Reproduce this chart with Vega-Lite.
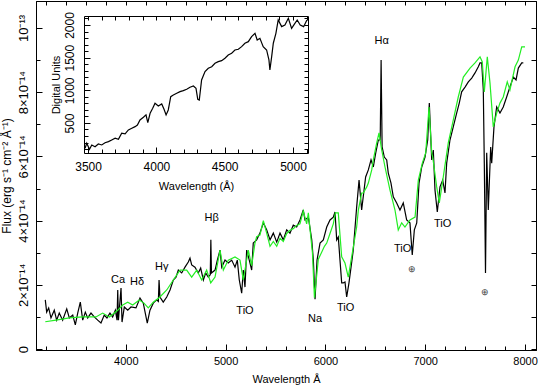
{
  "$schema": "https://vega.github.io/schema/vega-lite/v6.json",
  "width": 500,
  "height": 349,
  "autosize": {"type": "none"},
  "padding": {"left": 36, "top": 1, "right": 2, "bottom": 38},
  "config": {
    "view": {"stroke": "black", "strokeWidth": 1},
    "axis": {"labelFont": "Liberation Sans", "titleFont": "Liberation Sans", "labelFontSize": 11, "titleFontSize": 11, "titleFontWeight": "normal", "labelColor": "black", "titleColor": "black", "domainColor": "black", "tickColor": "black", "grid": false, "labelFlush": false, "labelOverlap": false},
    "text": {"font": "Liberation Sans"}
  },
  "datasets": {
    "black": [
      {"wl":3193,"flux":1.53},{"wl":3207,"flux":1.15},{"wl":3227,"flux":1.28},{"wl":3250,"flux":0.97},{"wl":3283,"flux":1.21},{"wl":3307,"flux":0.90},{"wl":3333,"flux":1.12},{"wl":3367,"flux":0.90},{"wl":3408,"flux":1.25},{"wl":3434,"flux":0.97},{"wl":3468,"flux":1.06},{"wl":3494,"flux":0.75},{"wl":3518,"flux":1.12},{"wl":3544,"flux":1.46},{"wl":3568,"flux":0.90},{"wl":3594,"flux":1.15},{"wl":3618,"flux":0.97},{"wl":3651,"flux":1.12},{"wl":3684,"flux":1.00},{"wl":3718,"flux":0.90},{"wl":3751,"flux":0.81},{"wl":3784,"flux":1.06},{"wl":3811,"flux":0.97},{"wl":3841,"flux":1.12},{"wl":3868,"flux":1.00},{"wl":3895,"flux":1.21},{"wl":3912,"flux":0.90},{"wl":3919,"flux":1.84},{"wl":3926,"flux":0.90},{"wl":3952,"flux":1.90},{"wl":3962,"flux":0.84},{"wl":3985,"flux":1.31},{"wl":4019,"flux":1.21},{"wl":4052,"flux":1.31},{"wl":4102,"flux":1.28},{"wl":4142,"flux":1.59},{"wl":4175,"flux":1.43},{"wl":4215,"flux":0.81},{"wl":4242,"flux":1.21},{"wl":4275,"flux":1.43},{"wl":4309,"flux":1.53},{"wl":4326,"flux":1.48},{"wl":4333,"flux":2.15},{"wl":4342,"flux":1.62},{"wl":4375,"flux":1.46},{"wl":4410,"flux":1.62},{"wl":4443,"flux":1.84},{"wl":4476,"flux":2.15},{"wl":4503,"flux":2.24},{"wl":4526,"flux":2.46},{"wl":4560,"flux":2.37},{"wl":4593,"flux":2.55},{"wl":4626,"flux":2.71},{"wl":4643,"flux":2.83},{"wl":4660,"flux":2.62},{"wl":4693,"flux":2.55},{"wl":4726,"flux":2.37},{"wl":4750,"flux":2.52},{"wl":4777,"flux":2.15},{"wl":4800,"flux":2.37},{"wl":4826,"flux":2.24},{"wl":4846,"flux":2.31},{"wl":4852,"flux":3.40},{"wl":4858,"flux":2.37},{"wl":4894,"flux":2.46},{"wl":4917,"flux":2.77},{"wl":4944,"flux":3.08},{"wl":4961,"flux":2.55},{"wl":4994,"flux":2.77},{"wl":5027,"flux":2.68},{"wl":5061,"flux":2.77},{"wl":5094,"flux":2.55},{"wl":5117,"flux":2.77},{"wl":5137,"flux":2.15},{"wl":5161,"flux":1.74},{"wl":5177,"flux":2.46},{"wl":5194,"flux":1.93},{"wl":5211,"flux":3.08},{"wl":5237,"flux":2.77},{"wl":5261,"flux":2.46},{"wl":5277,"flux":3.30},{"wl":5311,"flux":3.40},{"wl":5344,"flux":3.61},{"wl":5378,"flux":3.93},{"wl":5412,"flux":3.71},{"wl":5445,"flux":3.40},{"wl":5478,"flux":3.61},{"wl":5512,"flux":3.33},{"wl":5545,"flux":3.61},{"wl":5578,"flux":3.40},{"wl":5612,"flux":3.71},{"wl":5645,"flux":3.61},{"wl":5678,"flux":3.86},{"wl":5712,"flux":3.80},{"wl":5745,"flux":4.02},{"wl":5778,"flux":4.33},{"wl":5795,"flux":4.02},{"wl":5829,"flux":4.11},{"wl":5863,"flux":3.40},{"wl":5879,"flux":2.77},{"wl":5896,"flux":1.55},{"wl":5916,"flux":2.77},{"wl":5946,"flux":3.30},{"wl":5979,"flux":3.40},{"wl":6013,"flux":3.80},{"wl":6046,"flux":4.02},{"wl":6079,"flux":4.11},{"wl":6096,"flux":4.27},{"wl":6113,"flux":3.40},{"wl":6129,"flux":3.49},{"wl":6146,"flux":2.77},{"wl":6163,"flux":2.06},{"wl":6179,"flux":2.06},{"wl":6196,"flux":2.09},{"wl":6213,"flux":1.62},{"wl":6236,"flux":2.06},{"wl":6279,"flux":3.08},{"wl":6313,"flux":4.42},{"wl":6337,"flux":5.26},{"wl":6363,"flux":4.33},{"wl":6403,"flux":5.36},{"wl":6430,"flux":5.58},{"wl":6457,"flux":5.89},{"wl":6480,"flux":5.67},{"wl":6504,"flux":6.11},{"wl":6530,"flux":6.51},{"wl":6549,"flux":6.51},{"wl":6558,"flux":9.00},{"wl":6568,"flux":6.30},{"wl":6590,"flux":5.98},{"wl":6614,"flux":5.89},{"wl":6630,"flux":5.48},{"wl":6657,"flux":5.17},{"wl":6680,"flux":4.74},{"wl":6714,"flux":4.55},{"wl":6747,"flux":4.33},{"wl":6780,"flux":4.55},{"wl":6814,"flux":4.02},{"wl":6847,"flux":3.93},{"wl":6870,"flux":2.93},{"wl":6891,"flux":3.71},{"wl":6915,"flux":3.93},{"wl":6938,"flux":5.17},{"wl":6965,"flux":5.67},{"wl":6998,"flux":5.98},{"wl":7025,"flux":6.51},{"wl":7041,"flux":7.66},{"wl":7065,"flux":5.89},{"wl":7081,"flux":6.20},{"wl":7098,"flux":4.95},{"wl":7121,"flux":4.27},{"wl":7148,"flux":5.05},{"wl":7175,"flux":5.26},{"wl":7198,"flux":4.86},{"wl":7215,"flux":5.79},{"wl":7248,"flux":6.51},{"wl":7281,"flux":6.92},{"wl":7315,"flux":7.35},{"wl":7341,"flux":7.66},{"wl":7365,"flux":8.01},{"wl":7399,"flux":8.16},{"wl":7432,"flux":8.32},{"wl":7466,"flux":8.44},{"wl":7499,"flux":8.60},{"wl":7532,"flux":8.79},{"wl":7549,"flux":8.91},{"wl":7566,"flux":8.91},{"wl":7582,"flux":8.07},{"wl":7592,"flux":5.79},{"wl":7604,"flux":2.37},{"wl":7616,"flux":6.11},{"wl":7632,"flux":4.33},{"wl":7656,"flux":6.29},{"wl":7666,"flux":5.79},{"wl":7689,"flux":6.92},{"wl":7716,"flux":7.54},{"wl":7749,"flux":7.35},{"wl":7782,"flux":7.54},{"wl":7816,"flux":7.85},{"wl":7849,"flux":8.16},{"wl":7883,"flux":8.47},{"wl":7910,"flux":8.38},{"wl":7933,"flux":8.75},{"wl":7967,"flux":8.91},{"wl":7983,"flux":8.91}
    ],
    "green": [
      {"wl":3193,"flux":0.85},{"wl":3300,"flux":0.90},{"wl":3434,"flux":0.97},{"wl":3568,"flux":1.00},{"wl":3701,"flux":1.00},{"wl":3768,"flux":1.12},{"wl":3835,"flux":1.00},{"wl":3919,"flux":1.21},{"wl":3969,"flux":1.37},{"wl":4019,"flux":1.46},{"wl":4069,"flux":1.37},{"wl":4135,"flux":1.53},{"wl":4182,"flux":1.43},{"wl":4225,"flux":1.28},{"wl":4275,"flux":1.46},{"wl":4342,"flux":1.62},{"wl":4410,"flux":1.84},{"wl":4476,"flux":2.15},{"wl":4543,"flux":2.46},{"wl":4610,"flux":2.46},{"wl":4660,"flux":2.24},{"wl":4710,"flux":2.46},{"wl":4760,"flux":2.15},{"wl":4810,"flux":2.46},{"wl":4851,"flux":2.06},{"wl":4894,"flux":2.24},{"wl":4944,"flux":3.08},{"wl":4977,"flux":2.46},{"wl":5027,"flux":2.77},{"wl":5094,"flux":2.87},{"wl":5144,"flux":2.77},{"wl":5177,"flux":2.15},{"wl":5227,"flux":3.08},{"wl":5261,"flux":2.60},{"wl":5294,"flux":3.30},{"wl":5311,"flux":3.50},{"wl":5344,"flux":3.55},{"wl":5378,"flux":4.00},{"wl":5412,"flux":3.60},{"wl":5445,"flux":3.20},{"wl":5478,"flux":3.35},{"wl":5512,"flux":3.20},{"wl":5545,"flux":3.45},{"wl":5578,"flux":3.35},{"wl":5612,"flux":3.60},{"wl":5645,"flux":3.70},{"wl":5678,"flux":3.75},{"wl":5712,"flux":3.85},{"wl":5745,"flux":3.90},{"wl":5778,"flux":4.30},{"wl":5812,"flux":3.90},{"wl":5829,"flux":4.24},{"wl":5870,"flux":3.00},{"wl":5890,"flux":1.60},{"wl":5929,"flux":2.80},{"wl":5960,"flux":3.00},{"wl":5990,"flux":3.20},{"wl":6013,"flux":3.30},{"wl":6046,"flux":3.60},{"wl":6079,"flux":3.90},{"wl":6100,"flux":4.24},{"wl":6129,"flux":4.24},{"wl":6163,"flux":2.87},{"wl":6196,"flux":2.68},{"wl":6229,"flux":2.24},{"wl":6263,"flux":2.87},{"wl":6313,"flux":3.80},{"wl":6330,"flux":4.33},{"wl":6363,"flux":4.86},{"wl":6380,"flux":4.86},{"wl":6414,"flux":5.05},{"wl":6430,"flux":5.17},{"wl":6464,"flux":5.58},{"wl":6480,"flux":5.89},{"wl":6514,"flux":6.42},{"wl":6537,"flux":6.73},{"wl":6564,"flux":6.20},{"wl":6597,"flux":5.67},{"wl":6647,"flux":4.95},{"wl":6697,"flux":4.33},{"wl":6730,"flux":3.71},{"wl":6764,"flux":3.93},{"wl":6797,"flux":3.80},{"wl":6847,"flux":4.02},{"wl":6898,"flux":4.11},{"wl":6931,"flux":5.26},{"wl":6971,"flux":5.79},{"wl":7005,"flux":6.11},{"wl":7038,"flux":7.54},{"wl":7065,"flux":6.11},{"wl":7075,"flux":5.98},{"wl":7115,"flux":5.05},{"wl":7141,"flux":4.55},{"wl":7181,"flux":5.36},{"wl":7231,"flux":6.42},{"wl":7281,"flux":7.13},{"wl":7331,"flux":7.85},{"wl":7382,"flux":8.47},{"wl":7449,"flux":8.75},{"wl":7499,"flux":8.91},{"wl":7549,"flux":9.10},{"wl":7572,"flux":8.94},{"wl":7592,"flux":8.01},{"wl":7622,"flux":9.10},{"wl":7649,"flux":8.29},{"wl":7682,"flux":6.92},{"wl":7716,"flux":7.35},{"wl":7749,"flux":7.66},{"wl":7782,"flux":7.85},{"wl":7822,"flux":8.32},{"wl":7849,"flux":8.07},{"wl":7900,"flux":8.79},{"wl":7933,"flux":9.00},{"wl":7967,"flux":9.41},{"wl":8000,"flux":9.41}
    ],
    "inset": [
      {"wl":3478,"du":112},{"wl":3490,"du":189},{"wl":3510,"du":97},{"wl":3527,"du":163},{"wl":3551,"du":137},{"wl":3575,"du":178},{"wl":3600,"du":163},{"wl":3624,"du":198},{"wl":3649,"du":214},{"wl":3673,"du":240},{"wl":3698,"du":266},{"wl":3722,"du":250},{"wl":3746,"du":342},{"wl":3771,"du":332},{"wl":3795,"du":393},{"wl":3820,"du":419},{"wl":3844,"du":444},{"wl":3861,"du":469},{"wl":3880,"du":546},{"wl":3905,"du":587},{"wl":3924,"du":623},{"wl":3937,"du":505},{"wl":3954,"du":649},{"wl":3973,"du":725},{"wl":3990,"du":802},{"wl":4014,"du":760},{"wl":4039,"du":791},{"wl":4056,"du":710},{"wl":4071,"du":623},{"wl":4087,"du":699},{"wl":4105,"du":903},{"wl":4124,"du":929},{"wl":4149,"du":955},{"wl":4173,"du":979},{"wl":4197,"du":995},{"wl":4222,"du":1016},{"wl":4246,"du":1047},{"wl":4271,"du":1067},{"wl":4290,"du":1031},{"wl":4303,"du":863},{"wl":4314,"du":852},{"wl":4331,"du":1158},{"wl":4356,"du":1286},{"wl":4380,"du":1337},{"wl":4405,"du":1362},{"wl":4429,"du":1414},{"wl":4453,"du":1439},{"wl":4478,"du":1454},{"wl":4502,"du":1491},{"wl":4526,"du":1541},{"wl":4551,"du":1567},{"wl":4575,"du":1618},{"wl":4600,"du":1629},{"wl":4624,"du":1669},{"wl":4648,"du":1721},{"wl":4673,"du":1745},{"wl":4697,"du":1822},{"wl":4722,"du":1873},{"wl":4738,"du":1771},{"wl":4758,"du":1797},{"wl":4782,"du":1669},{"wl":4807,"du":1618},{"wl":4824,"du":1465},{"wl":4831,"du":1312},{"wl":4844,"du":1515},{"wl":4856,"du":1721},{"wl":4875,"du":1873},{"wl":4892,"du":2077},{"wl":4917,"du":1975},{"wl":4941,"du":2000},{"wl":4966,"du":2103},{"wl":4990,"du":1949},{"wl":5014,"du":2026},{"wl":5031,"du":2077},{"wl":5053,"du":2000},{"wl":5078,"du":1975},{"wl":5102,"du":2077}
    ],
    "labels": [
      {"wl":3922,"flux":2.15,"label":"Ca"},{"wl":4112,"flux":2.09,"label":"Hδ"},{"wl":4360,"flux":2.55,"label":"Hγ"},{"wl":4860,"flux":4.08,"label":"Hβ"},{"wl":5194,"flux":1.18,"label":"TiO"},{"wl":5896,"flux":0.95,"label":"Na"},{"wl":6203,"flux":1.28,"label":"TiO"},{"wl":6774,"flux":3.12,"label":"TiO"},{"wl":7175,"flux":3.89,"label":"TiO"},{"wl":6564,"flux":9.6,"label":"Hα"}
    ],
    "earth": [
      {"wl":6870,"flux":2.49,"label":"⊕"},{"wl":7602,"flux":1.78,"label":"⊕"}
    ]
  },
  "layer": [
    {
      "data": {"name": "black"},
      "mark": {"type": "line", "color": "black", "strokeWidth": 1.2, "clip": true},
      "encoding": {
        "x": {"field": "wl", "type": "quantitative", "scale": {"domain": [3100, 8110], "nice": false, "zero": false},
              "axis": {"orient": "bottom", "values": [4000, 5000, 6000, 7000, 8000], "format": "d", "tickSize": -6, "labelPadding": 11, "title": "Wavelength Å", "titlePadding": 7}},
        "y": {"field": "flux", "type": "quantitative", "scale": {"domain": [-0.03, 10.84], "nice": false, "zero": false},
              "axis": {"orient": "left", "values": [0, 2, 4, 6, 8, 10], "labelExpr": "datum.value==0?'0':datum.value==10?'10⁻¹³':datum.value+'×10⁻¹⁴'", "labelAngle": -90, "labelFontSize": 13, "tickSize": -6, "labelPadding": 12, "title": "Flux (erg s⁻¹ cm⁻² Å⁻¹)", "titleFontSize": 12, "titlePadding": 4}}
      }
    },
    {
      "data": {"name": "green"},
      "mark": {"type": "line", "color": "#22ee22", "strokeWidth": 1.2, "clip": true},
      "encoding": {
        "x": {"field": "wl", "type": "quantitative", "scale": {"domain": [3100, 8110], "nice": false, "zero": false}, "axis": null},
        "y": {"field": "flux", "type": "quantitative", "scale": {"domain": [-0.03, 10.84], "nice": false, "zero": false}, "axis": null}
      }
    },
    {
      "data": {"name": "labels"},
      "mark": {"type": "text", "fontSize": 11, "color": "black", "align": "center", "baseline": "middle"},
      "encoding": {
        "x": {"field": "wl", "type": "quantitative", "scale": {"domain": [3100, 8110], "nice": false, "zero": false},
              "axis": {"orient": "top", "values": [3200,3400,3600,3800,4000,4200,4400,4600,4800,5000,5200,5400,5600,5800,6000,6200,6400,6600,6800,7000,7200,7400,7600,7800,8000], "labels": false, "tickSize": -4, "title": null}},
        "y": {"field": "flux", "type": "quantitative", "scale": {"domain": [-0.03, 10.84], "nice": false, "zero": false},
              "axis": {"orient": "right", "values": [0,1,2,3,4,5,6,7,8,9,10], "labels": false, "tickSize": -5, "title": null}},
        "text": {"field": "label"}
      }
    },
    {
      "data": {"name": "earth"},
      "mark": {"type": "text", "fontSize": 9, "color": "#444444", "align": "center", "baseline": "middle"},
      "encoding": {
        "x": {"field": "wl", "type": "quantitative", "scale": {"domain": [3100, 8110], "nice": false, "zero": false},
              "axis": {"orient": "bottom", "values": [3200,3400,3600,3800,4200,4400,4600,4800,5200,5400,5600,5800,6200,6400,6600,6800,7200,7400,7600,7800], "labels": false, "tickSize": -4, "domain": false, "title": null}},
        "y": {"field": "flux", "type": "quantitative", "scale": {"domain": [-0.03, 10.84], "nice": false, "zero": false},
              "axis": {"orient": "left", "values": [1,3,5,7,9], "labels": false, "tickSize": -4, "domain": false, "title": null}},
        "text": {"field": "label"}
      }
    },
    {
      "data": {"name": "inset"},
      "mark": {"type": "line", "color": "black", "strokeWidth": 1.2},
      "encoding": {
        "x": {"field": "wl", "type": "quantitative", "scale": {"domain": [3470, 5110], "range": [48, 272], "nice": false, "zero": false},
              "axis": {"orient": "bottom", "offset": -197, "values": [3500, 4000, 4500, 5000], "format": "d", "labelFontSize": 12, "tickSize": -6, "labelPadding": 14, "title": "Wavelength (Å)", "titlePadding": 8}},
        "y": {"field": "du", "type": "quantitative", "scale": {"domain": [40, 2138], "range": [152, 15], "nice": false, "zero": false},
              "axis": {"orient": "left", "offset": -48, "values": [500, 1000, 1500, 2000], "format": "d", "labelAngle": -90, "labelFontSize": 12, "tickSize": -6, "labelPadding": 14, "title": "Digital Units", "titlePadding": 2}}
      }
    },
    {
      "data": {"name": "inset"},
      "mark": {"type": "line", "strokeOpacity": 0},
      "encoding": {
        "x": {"field": "wl", "type": "quantitative", "scale": {"domain": [3470, 5110], "range": [48, 272], "nice": false, "zero": false},
              "axis": {"orient": "top", "offset": -15, "values": [3500,3600,3700,3800,3900,4000,4100,4200,4300,4400,4500,4600,4700,4800,4900,5000,5100], "labels": false, "tickSize": -4, "title": null}},
        "y": {"field": "du", "type": "quantitative", "scale": {"domain": [40, 2138], "range": [152, 15], "nice": false, "zero": false},
              "axis": {"orient": "right", "offset": -228, "values": [100,200,300,400,500,600,700,800,900,1000,1100,1200,1300,1400,1500,1600,1700,1800,1900,2000,2100], "labels": false, "tickSize": -4, "title": null}}
      }
    },
    {
      "data": {"name": "inset"},
      "mark": {"type": "line", "strokeOpacity": 0},
      "encoding": {
        "x": {"field": "wl", "type": "quantitative", "scale": {"domain": [3470, 5110], "range": [48, 272], "nice": false, "zero": false},
              "axis": {"orient": "bottom", "offset": -197, "values": [3600,3700,3800,3900,4100,4200,4300,4400,4600,4700,4800,4900,5100], "labels": false, "tickSize": -4, "domain": false, "title": null}},
        "y": {"field": "du", "type": "quantitative", "scale": {"domain": [40, 2138], "range": [152, 15], "nice": false, "zero": false},
              "axis": {"orient": "left", "offset": -48, "values": [100,200,300,400,600,700,800,900,1100,1200,1300,1400,1600,1700,1800,1900,2100], "labels": false, "tickSize": -4, "domain": false, "title": null}}
      }
    }
  ],
  "resolve": {"scale": {"x": "independent", "y": "independent"}}
}
